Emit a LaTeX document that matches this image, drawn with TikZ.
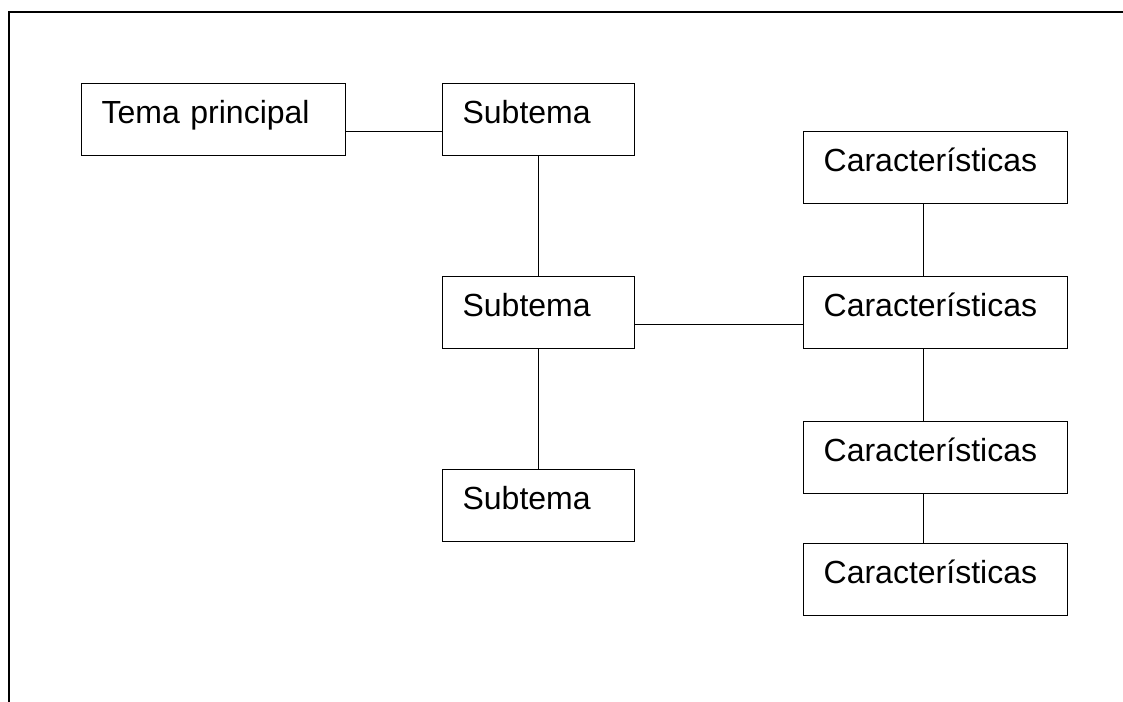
\documentclass[tikz,border=0pt]{standalone}
\usepackage{fontspec}
\setmainfont{Liberation Sans}
\usetikzlibrary{positioning}
\tikzset{
topic/.style={shape=rectangle, draw, line width=0.8pt, inner sep=0pt, minimum height=54pt, text height=30pt, text depth=24pt, align=left, font=\fontsize{24}{28}\selectfont, execute at begin node={\hspace*{15pt}}}, mainbox/.style={topic, text width=198pt}, subbox/.style={topic, text width=144pt}}

\begin{document}
\begin{tikzpicture}[line width=0.8pt]
\useasboundingbox (0,0) rectangle (842.25pt,-526.5pt);
\draw (842.25pt,-9pt) -- (6.75pt,-9pt) -- (6.75pt,-526.5pt);
 \node [mainbox, anchor=north west] (tema) at (60.75pt,-62.25pt) {Tema principal};
\node [subbox, right=72pt of tema] (sub1) {Subtema};
\node [subbox, below=90pt of sub1] (sub2) {Subtema};
\node [subbox, below=90pt of sub2] (sub3) {Subtema};
\node [mainbox, right=126pt of sub2] (car2) {Características};
\node [mainbox, above=54pt of car2] (car1) {Características};
\node [mainbox, below=54pt of car2] (car3) {Características};
\node [mainbox, below=36.75pt of car3] (car4) {Características};
\draw ([yshift=-9pt]tema.east) -- ([yshift=-9pt]sub1.west);
\draw (sub1) -- (sub2);
\draw (sub2) -- (sub3);
\draw ([yshift=-9pt]sub2.east) -- ([yshift=-9pt]car2.west);
\draw ([xshift=-9pt]car1.south) -- ([xshift=-9pt]car2.north);
\draw ([xshift=-9pt]car2.south) -- ([xshift=-9pt]car3.north);
\draw ([xshift=-9pt]car3.south) -- ([xshift=-9pt]car4.north);
\end{tikzpicture}
\end{document}
